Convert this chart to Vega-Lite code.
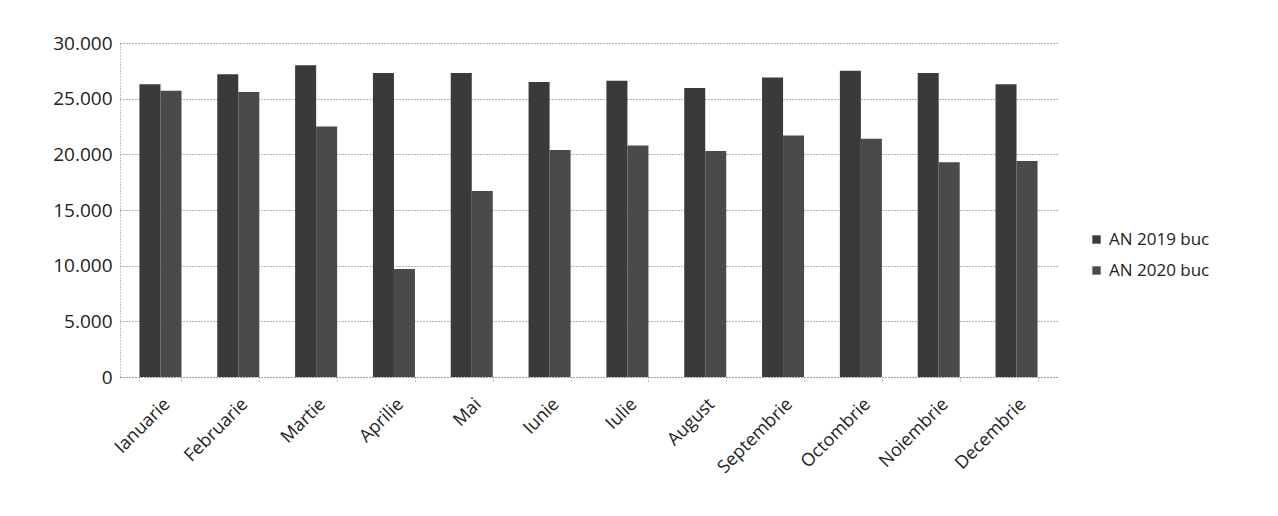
{
  "$schema": "https://vega.github.io/schema/vega-lite/v6.json",
  "width": 937,
  "height": 334,
  "autosize": "none",
  "padding": {"left": 120, "top": 43, "right": 221, "bottom": 139},
  "background": "white",
  "view": {"stroke": null},
  "config": {
    "font": "Open Sans",
    "axis": {"labelColor": "#222", "domainColor": "#888", "tickColor": "#888"}
  },
  "data": {
    "values": [
      {"luna": "Ianuarie", "an": "AN 2019 buc", "valoare": 26300},
      {"luna": "Ianuarie", "an": "AN 2020 buc", "valoare": 25700},
      {"luna": "Februarie", "an": "AN 2019 buc", "valoare": 27200},
      {"luna": "Februarie", "an": "AN 2020 buc", "valoare": 25600},
      {"luna": "Martie", "an": "AN 2019 buc", "valoare": 28000},
      {"luna": "Martie", "an": "AN 2020 buc", "valoare": 22500},
      {"luna": "Aprilie", "an": "AN 2019 buc", "valoare": 27300},
      {"luna": "Aprilie", "an": "AN 2020 buc", "valoare": 9700},
      {"luna": "Mai", "an": "AN 2019 buc", "valoare": 27300},
      {"luna": "Mai", "an": "AN 2020 buc", "valoare": 16700},
      {"luna": "Iunie", "an": "AN 2019 buc", "valoare": 26500},
      {"luna": "Iunie", "an": "AN 2020 buc", "valoare": 20400},
      {"luna": "Iulie", "an": "AN 2019 buc", "valoare": 26600},
      {"luna": "Iulie", "an": "AN 2020 buc", "valoare": 20800},
      {"luna": "August", "an": "AN 2019 buc", "valoare": 25950},
      {"luna": "August", "an": "AN 2020 buc", "valoare": 20300},
      {"luna": "Septembrie", "an": "AN 2019 buc", "valoare": 26900},
      {"luna": "Septembrie", "an": "AN 2020 buc", "valoare": 21700},
      {"luna": "Octombrie", "an": "AN 2019 buc", "valoare": 27500},
      {"luna": "Octombrie", "an": "AN 2020 buc", "valoare": 21400},
      {"luna": "Noiembrie", "an": "AN 2019 buc", "valoare": 27300},
      {"luna": "Noiembrie", "an": "AN 2020 buc", "valoare": 19300},
      {"luna": "Decembrie", "an": "AN 2019 buc", "valoare": 26300},
      {"luna": "Decembrie", "an": "AN 2020 buc", "valoare": 19400}
    ]
  },
  "mark": {"type": "bar"},
  "encoding": {
    "x": {
      "field": "luna",
      "type": "nominal",
      "sort": null,
      "title": null,
      "scale": {"paddingInner": 0.46, "paddingOuter": 0.25},
      "axis": {
        "labelAngle": -45,
        "labelAlign": "right",
        "labelBaseline": "top",
        "labelFontSize": 18,
        "labelPadding": 12,
        "tickBand": "extent",
        "tickSize": 6,
        "domainDash": [1, 2],
        "tickDash": [1, 2]
      }
    },
    "xOffset": {"field": "an", "type": "nominal"},
    "y": {
      "field": "valoare",
      "type": "quantitative",
      "title": null,
      "scale": {"domain": [0, 30000]},
      "axis": {
        "values": [0, 5000, 10000, 15000, 20000, 25000, 30000],
        "labelExpr": "replace(format(datum.value, ','), ',', '.')",
        "labelFontSize": 19,
        "labelPadding": 8,
        "ticks": false,
        "grid": true,
        "gridDash": [1, 2],
        "gridColor": "#666",
        "domainDash": [1, 2]
      }
    },
    "color": {
      "field": "an",
      "type": "nominal",
      "scale": {"range": ["#3a3a3a", "#4a4a4a"]},
      "legend": {
        "title": null,
        "orient": "none",
        "legendX": 968,
        "legendY": 188,
        "symbolType": "square",
        "symbolSize": 70,
        "labelFontSize": 17,
        "rowPadding": 13,
        "labelColor": "#222"
      }
    }
  }
}
